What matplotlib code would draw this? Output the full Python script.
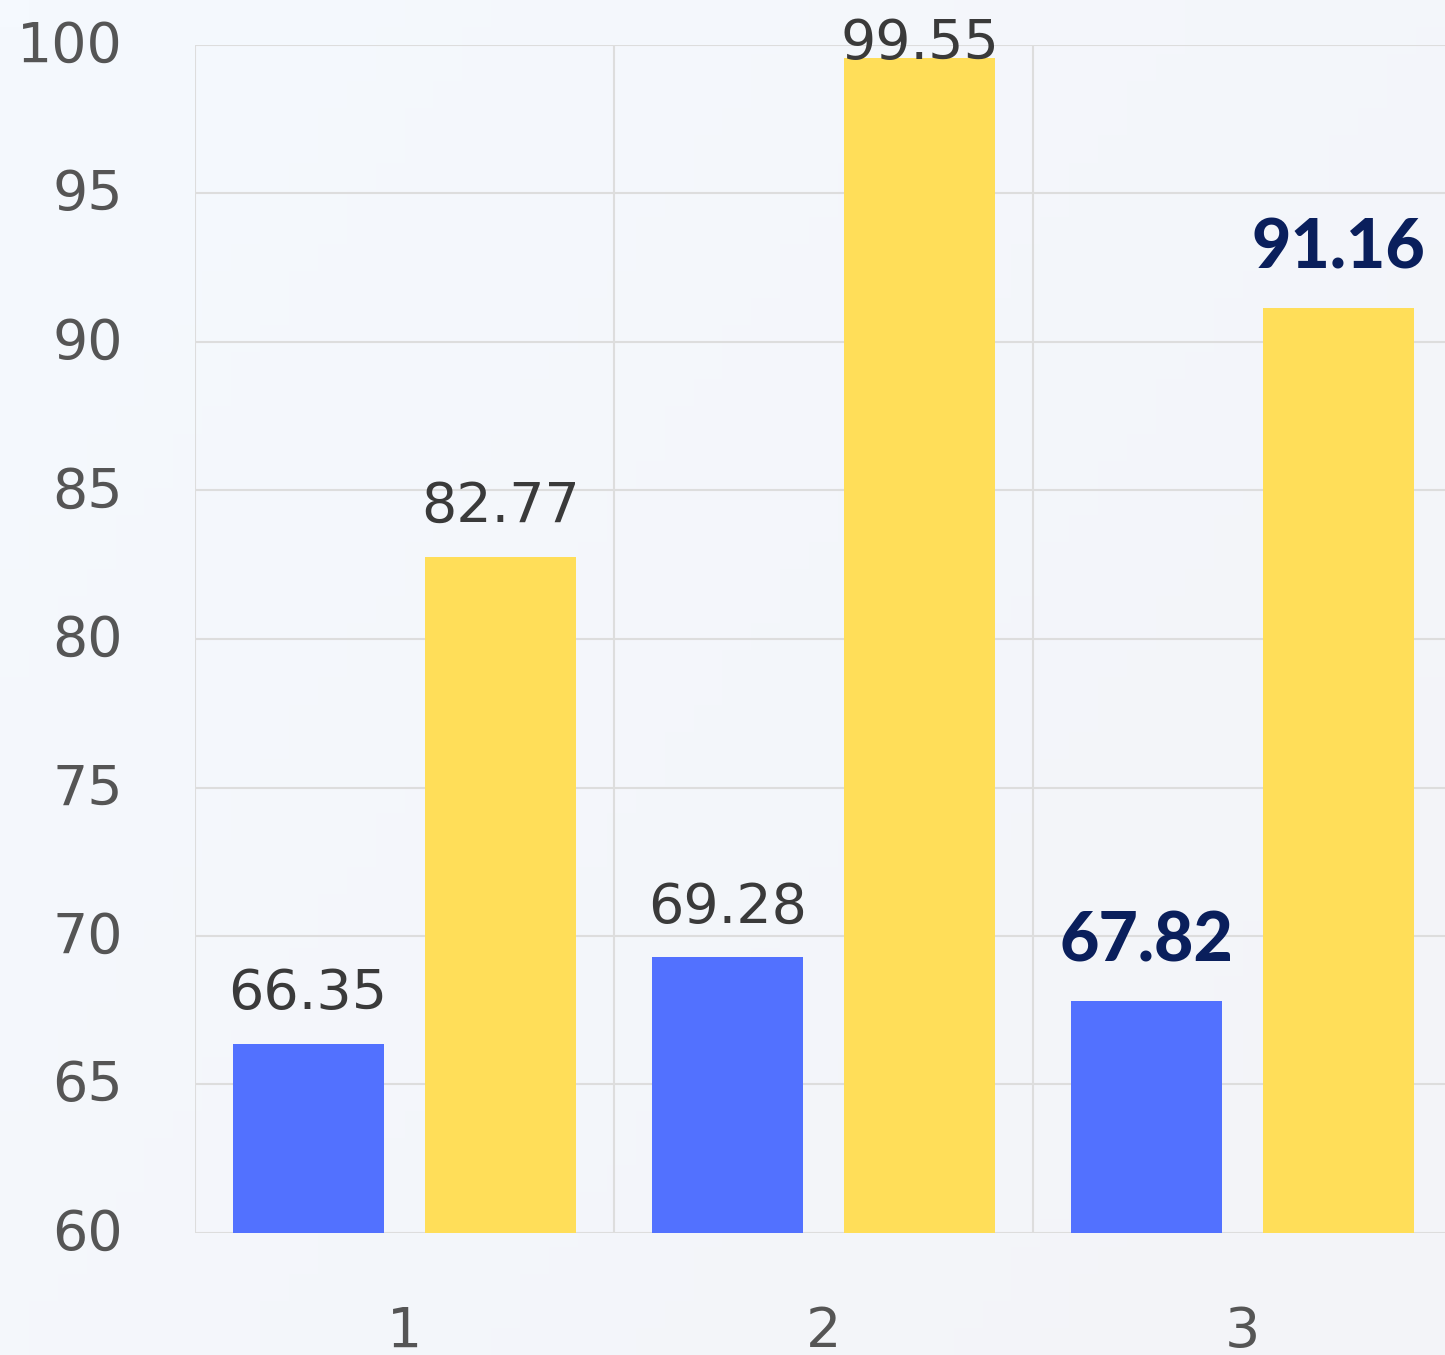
import numpy as np
import matplotlib
matplotlib.use("Agg")
import matplotlib.pyplot as plt
import matplotlib.transforms as mtransforms

categories = ["1", "2", "3"]
series_a = [66.35, 69.28, 67.82]
series_b = [82.77, 99.55, 91.16]
y_ticks = [60, 65, 70, 75, 80, 85, 90, 95, 100]
highlight = 2  # index of emphasized group

plt.rcParams['font.family'] = ['DejaVu Sans']

W, H = 1445, 1355
fig = plt.figure(figsize=(W / 100, H / 100), dpi=100)

# background gradient
bg = fig.add_axes([0, 0, 1, 1], zorder=-10)
h, w = 50, 50
yy, xx = np.mgrid[0:1:h*1j, 0:1:w*1j]
c1 = np.array([0xF5, 0xF9, 0xFE]) / 255
c2 = np.array([0xF3, 0xF4, 0xF8]) / 255
t = (0.6 * xx + 0.4 * yy)[..., None]
img = c1 * (1 - t) + c2 * t
bg.imshow(img, aspect='auto', extent=[0, 1, 0, 1], origin='upper')
bg.axis('off')

ax = fig.add_axes([195/W, (H-1233)/H, 1257/W, (1233-45)/H])
ax.patch.set_alpha(0)

x = np.arange(len(categories))
off, bw = 0.23, 0.36
ax.bar(x - off, [v - 60 for v in series_a], bottom=60, width=bw, color="#5271FF", zorder=3)
ax.bar(x + off, [v - 60 for v in series_b], bottom=60, width=bw, color="#FFDE59", zorder=3)

ax.set_xlim(-0.5, 2.5)
ax.set_ylim(60, 100)

for i in range(len(categories)):
    for xv, v in ((x[i] - off, series_a[i]), (x[i] + off, series_b[i])):
        ytop = ax.transData.transform((xv, v))[1]
        if i == highlight:
            gap_px = 39
            cap = 50
        else:
            gap_px = 35
            cap = 42
        gap_px = min(gap_px, (H - 17 - cap) - ytop)
        kw = dict(xytext=(0, gap_px * 72 / 100), textcoords='offset points',
                  ha='center', va='baseline', zorder=5, annotation_clip=False)
        if i == highlight:
            ax.annotate(f"{v:.2f}", (xv, v), fontsize=49, fontweight='black',
                        family=['Lato', 'DejaVu Sans'], color="#0A1F5C", **kw)
        else:
            ax.annotate(f"{v:.2f}", (xv, v), fontsize=40, color="#3A3A3A", **kw)

ax.set_yticks(y_ticks)
ax.set_xticks(x)
ax.set_xticklabels(categories)
ax.tick_params(axis='y', length=0, pad=52, labelsize=40, labelcolor="#555555")
ax.tick_params(axis='x', length=0, pad=52, labelsize=40, labelcolor="#555555")
ax.set_xticks([-0.5, 0.5, 1.5, 2.5], minor=True)
ax.grid(axis='y', color="#DDDDDD", lw=1.5, zorder=0)
ax.grid(axis='x', which='minor', color="#DDDDDD", lw=1.5, zorder=0)
ax.grid(axis='x', which='major', visible=False)
ax.tick_params(axis='x', which='minor', length=0)
for s in ax.spines.values():
    s.set_visible(False)

# nudge y tick labels up slightly to match reference
shift = mtransforms.ScaledTranslation(0, 4 / 100, fig.dpi_scale_trans)
for lbl in ax.get_yticklabels():
    lbl.set_transform(lbl.get_transform() + shift)

fig.savefig("out.png", dpi=100)
